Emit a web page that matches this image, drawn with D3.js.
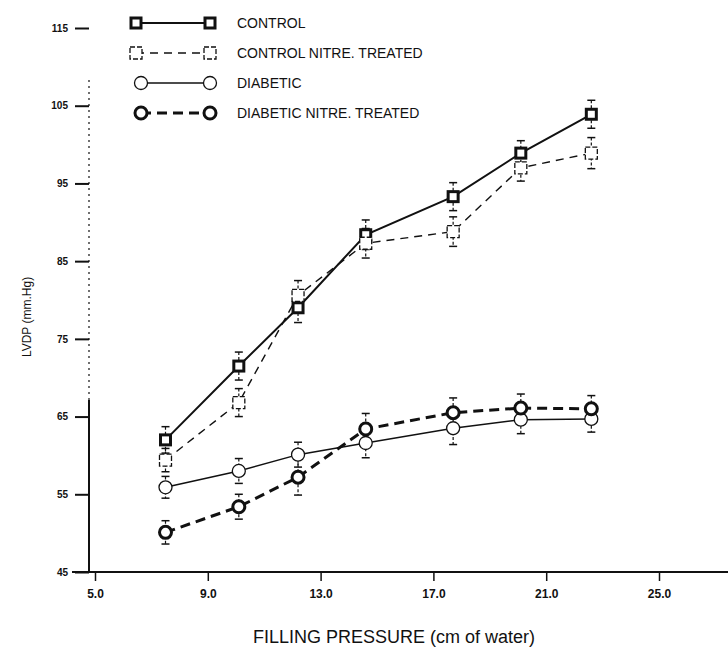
<!DOCTYPE html>
<html>
<head>
<meta charset="utf-8">
<script src="https://cdn.jsdelivr.net/npm/d3@7"></script>
<style>
  body { margin: 0; background: #fff; }
  svg { display: block; }
  .tick-label { font-family: "Liberation Sans Narrow", "Liberation Sans", Arial, sans-serif; font-weight: bold; fill: #111; }
  .legend-text { font-family: "Liberation Sans", Arial, sans-serif; font-size: 14px; fill: #111; }
</style>
</head>
<body>
<div id="chart"></div>
<script>
// Filling pressure (cm of water) at each measurement
const pressures = [7.5, 10.1, 12.2, 14.6, 17.7, 20.1, 22.6];

// LVDP (mm.Hg) for each group
const control = [62.0, 71.5, 79.0, 88.4, 93.3, 98.9, 103.9];
const controlNitre = [59.4, 66.8, 80.6, 87.3, 88.8, 97.0, 98.9];
const diabetic = [55.9, 58.0, 60.1, 61.6, 63.5, 64.6, 64.7];
const diabeticNitre = [50.1, 53.4, 57.2, 63.4, 65.5, 66.1, 66.0];

// error bar half-heights
const controlSem = [1.7, 1.8, 1.9, 1.9, 1.8, 1.6, 1.8];
const controlNitreSem = [1.5, 1.8, 1.9, 1.9, 1.9, 1.7, 2.0];
const diabeticSem = [1.4, 1.6, 1.6, 1.9, 2.1, 1.8, 1.7];
const diabeticNitreSem = [1.5, 1.6, 2.3, 2.0, 1.9, 1.8, 1.7];

const xTicks = [5, 9, 13, 17, 21, 25];
const yTicks = [45, 55, 65, 75, 85, 95, 105, 115];
const legendLabels = ["CONTROL", "CONTROL NITRE. TREATED", "DIABETIC", "DIABETIC NITRE. TREATED"];

const width = 728, height = 649;
const ink = "#111";

const svg = d3.select("#chart").append("svg")
    .attr("width", width)
    .attr("height", height);

svg.append("rect").attr("width", width).attr("height", height).attr("fill", "#fff");

const x = d3.scaleLinear().domain([5, 25]).range([95, 659]);
const y = d3.scaleLinear().domain([45, 115]).range([572, 28]);
const axisX = 89;

// x axis
svg.append("line")
    .attr("x1", 72).attr("x2", width)
    .attr("y1", y(45)).attr("y2", y(45))
    .attr("stroke", ink).attr("stroke-width", 2);

const xAxis = svg.append("g")
    .attr("transform", `translate(0,${y(45)})`)
    .call(d3.axisBottom(x).tickValues(xTicks).tickSize(9).tickPadding(8).tickFormat(d3.format(".1f")));
xAxis.select(".domain").remove();
xAxis.selectAll("line").attr("stroke", ink).attr("stroke-width", 1.5);
xAxis.selectAll("text")
    .attr("class", "tick-label")
    .style("font-size", "12px");

// y axis: solid lower part, faded dotted upper part like the scan
svg.append("line")
    .attr("x1", axisX).attr("x2", axisX)
    .attr("y1", y(45)).attr("y2", 400)
    .attr("stroke", ink).attr("stroke-width", 2);
svg.append("line")
    .attr("x1", axisX).attr("x2", axisX)
    .attr("y1", 400).attr("y2", 76)
    .attr("stroke", ink).attr("stroke-width", 1.2)
    .attr("stroke-dasharray", "2,4");

const yAxis = svg.append("g")
    .attr("transform", `translate(${axisX},0)`)
    .call(d3.axisLeft(y).tickValues(yTicks).tickSize(14).tickPadding(7));
yAxis.select(".domain").remove();
yAxis.selectAll("line").attr("stroke", ink).attr("stroke-width", 2);
yAxis.selectAll("text")
    .attr("class", "tick-label")
    .style("font-size", "10px");

// axis titles
svg.append("text")
    .attr("x", 394).attr("y", 643)
    .attr("text-anchor", "middle")
    .style("font-family", "'Liberation Sans', Arial, sans-serif")
    .style("font-size", "18px")
    .attr("fill", ink)
    .text("FILLING PRESSURE (cm of water)");

svg.append("text")
    .attr("transform", `translate(31,317) rotate(-90)`)
    .attr("text-anchor", "middle")
    .style("font-family", "'Liberation Sans', Arial, sans-serif")
    .style("font-size", "12px")
    .attr("fill", ink)
    .text("LVDP (mm.Hg)");

// series definitions
const series = [
    { values: control, sem: controlSem, width: 2, dash: null, marker: "solidSquare" },
    { values: controlNitre, sem: controlNitreSem, width: 1.4, dash: "8,6", marker: "openSquare" },
    { values: diabetic, sem: diabeticSem, width: 1.5, dash: null, marker: "thinCircle" },
    { values: diabeticNitre, sem: diabeticNitreSem, width: 3, dash: "10,6", marker: "boldCircle" }
];

const line = d3.line()
    .x(d => x(d.p))
    .y(d => y(d.v));

function drawMarker(g, type, cx, cy) {
    if (type === "solidSquare") {
        g.append("rect")
            .attr("x", cx - 5).attr("y", cy - 5).attr("width", 10).attr("height", 10)
            .attr("fill", "#fff").attr("stroke", ink).attr("stroke-width", 3);
    } else if (type === "openSquare") {
        g.append("rect")
            .attr("x", cx - 6).attr("y", cy - 6).attr("width", 12).attr("height", 12)
            .attr("fill", "#fff").attr("stroke", ink).attr("stroke-width", 1.3)
            .attr("stroke-dasharray", "5,2");
    } else if (type === "thinCircle") {
        g.append("circle")
            .attr("cx", cx).attr("cy", cy).attr("r", 6.5)
            .attr("fill", "#fff").attr("stroke", ink).attr("stroke-width", 1.3);
    } else {
        g.append("circle")
            .attr("cx", cx).attr("cy", cy).attr("r", 6)
            .attr("fill", "#fff").attr("stroke", ink).attr("stroke-width", 3);
    }
}

const plot = svg.append("g");

// lines first
series.forEach(s => {
    const pts = s.values.map((v, i) => ({ p: pressures[i], v: v }));
    plot.append("path")
        .datum(pts)
        .attr("d", line)
        .attr("fill", "none")
        .attr("stroke", ink)
        .attr("stroke-width", s.width)
        .attr("stroke-dasharray", s.dash);
});

// error bars
series.forEach(s => {
    s.values.forEach((v, i) => {
        const cx = x(pressures[i]);
        const top = y(v + s.sem[i]), bot = y(v - s.sem[i]);
        plot.append("line")
            .attr("x1", cx).attr("x2", cx).attr("y1", top).attr("y2", bot)
            .attr("stroke", ink).attr("stroke-width", 1.2)
            .attr("stroke-dasharray", "3,2");
        [top, bot].forEach(yy => {
            plot.append("line")
                .attr("x1", cx - 4).attr("x2", cx + 4).attr("y1", yy).attr("y2", yy)
                .attr("stroke", ink).attr("stroke-width", 1.5);
        });
    });
});

// markers on top
series.forEach(s => {
    s.values.forEach((v, i) => drawMarker(plot, s.marker, x(pressures[i]), y(v)));
});

// legend
const legend = svg.append("g");
legendLabels.forEach((label, i) => {
    const s = series[i];
    const ly = 23 + i * 30;
    const x1 = s.marker.indexOf("Circle") >= 0 ? 141 : 136;
    const x2 = 210;
    legend.append("line")
        .attr("x1", x1).attr("x2", x2).attr("y1", ly).attr("y2", ly)
        .attr("stroke", ink).attr("stroke-width", s.width)
        .attr("stroke-dasharray", s.dash);
    drawMarker(legend, s.marker, x1, ly);
    drawMarker(legend, s.marker, x2, ly);
    legend.append("text")
        .attr("class", "legend-text")
        .attr("x", 237).attr("y", ly + 5)
        .text(label);
});
</script>
</body>
</html>
